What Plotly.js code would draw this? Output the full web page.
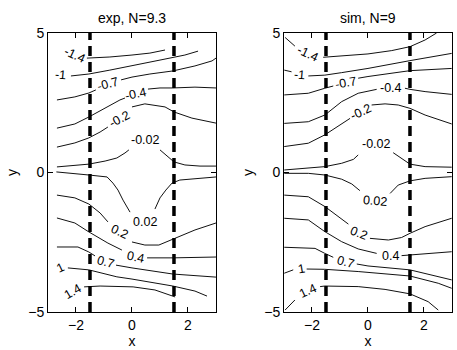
<!DOCTYPE html>
<html>
<head>
<meta charset="utf-8">
<script src="https://cdn.plot.ly/plotly-3.0.1.min.js"></script>
<style>
  html, body { margin: 0; padding: 0; background: #fff; }
  #chart { width: 457px; height: 350px; }
</style>
</head>
<body>
<div id="chart"></div>
<script>
// contour levels shared by both panels
const levels = [-1.4, -1, -0.7, -0.4, -0.2, -0.02, 0.02, 0.2, 0.4, 0.7, 1, 1.4];
const panelTitles = ["exp, N=9.3", "sim, N=9"];
const guideX = [-1.5, 1.5];
const guideY = [-5, 5];
const xTicks = [-2, 0, 2];
const yTicks = [-5, 0, 5];

// ---- exp panel, one line per level (null = gap where the label sits)
const expM14x = [-1.61, -0.79, 0, 0.64, 1.18];
const expM14y = [4.10, 4.14, 4.21, 4.28, 4.39];
const expM1x = [-2.18, -1.54, -0.79, 0, 1.0, 1.89, 2.36];
const expM1y = [3.46, 3.53, 3.67, 3.82, 4.03, 4.21, 4.35];
const expM07x = [-2.68, -2.04, -1.54, -1.29, null, -0.39, 0, 0.64, 1.46, 2.25, 2.86, 3.0];
const expM07y = [2.60, 2.71, 2.85, 2.96, null, 3.32, 3.42, 3.53, 3.64, 3.82, 4.0, 4.1];
const expM04x = [-2.68, -2.04, -1.54, -0.96, -0.43, -0.25, null, 0.57, 1.0, 1.46, 2.25, 3.0];
const expM04y = [1.59, 1.74, 1.99, 2.31, 2.60, 2.67, null, 2.99, 3.03, 3.03, 3.06, 3.03];
const expM02x = [-2.68, -2.04, -1.54, -1.14, -0.86, null, 0, 0.46, 1.18, 1.5, 2.14, 3.0];
const expM02y = [0.91, 1.06, 1.24, 1.45, 1.63, null, 2.35, 2.46, 2.35, 2.17, 1.95, 1.77];
const expM002x = [-2.68, -1.54, -0.96, -0.54, -0.25, -0.11, null, 1.0, 1.25, 1.5, 1.89, 2.43, 3.0];
const expM002y = [0.20, 0.30, 0.41, 0.52, 0.70, 0.81, null, 0.81, 0.59, 0.38, 0.27, 0.23, 0.23];
const expP002x = [-2.7, -2.21, -1.54, -0.89, -0.68, -0.5, -0.32, -0.07, null, 0.82, 1.0, 1.21, 1.43, 1.71, 3.0];
const expP002y = [0.02, -0.02, -0.09, -0.16, -0.38, -0.63, -0.99, -1.42, null, -1.31, -0.91, -0.63, -0.38, -0.27, -0.16];
const expP02x = [-2.68, -2.04, -1.54, -1.14, -0.86, null, 0, 0.46, 0.96, 1.46, 2.25, 3.0];
const expP02y = [-0.81, -0.91, -1.13, -1.45, -1.77, null, -2.49, -2.6, -2.6, -2.39, -2.06, -1.81];
const expP04x = [-2.68, -2.04, -1.54, -0.86, -0.36, null, 0.54, 1.46, 3.0];
const expP04y = [-1.63, -1.81, -2.13, -2.53, -2.78, null, -3.06, -3.06, -3.03];
const expP07x = [-2.68, -1.93, -1.54, -1.32, null, -0.57, 0, 1.46, 3.0];
const expP07y = [-2.67, -2.67, -2.85, -2.99, null, -3.32, -3.42, -3.64, -3.75];
const expP1x = [-2.29, -1.54, -0.54, 0, 1.46, 2.25, 2.68];
const expP1y = [-3.42, -3.49, -3.74, -3.82, -4.07, -4.25, -4.43];
const expP14x = [-1.71, -1.14, 0.04, 0.82, 1.54];
const expP14y = [-4.10, -4.07, -4.10, -4.21, -4.46];
const expLabelX = [-2.05, -2.54, -0.86, 0.14, -0.43, 0.5, 0.46, -0.43, 0.11, -0.96, -2.57, -2.14];
const expLabelY = [4.22, 3.49, 3.17, 2.81, 1.9, 1.16, -1.77, -2.13, -3.03, -3.21, -3.42, -4.28];

// ---- sim panel
const simM14x = [-2.96, -2.79, -2.61, null, -1.6, -0.94, 0, 0.85, 1.5, 2.04, 2.33, 2.45];
const simM14y = [4.84, 4.69, 4.53, null, 4.13, 4.18, 4.25, 4.37, 4.51, 4.75, 4.93, 5.0];
const simM1x = [-2.99, -2.73, null, -2.13, -1.54, -0.94, 0, 1.5, 2.99];
const simM1y = [3.67, 3.61, null, 3.46, 3.49, 3.58, 3.73, 4.01, 4.27];
const simM07x = [-2.99, -2.13, -1.54, -1.24, null, -0.35, 0, 1.5, 2.99];
const simM07y = [2.78, 2.84, 3.02, 3.1, null, 3.38, 3.44, 3.65, 3.73];
const simM04x = [-2.99, -2.13, -1.54, -0.94, -0.35, 0.31, null, 1.32, 1.5, 2.04, 2.99];
const simM04y = [1.76, 1.82, 2.06, 2.54, 2.84, 2.98, null, 3.02, 2.98, 2.9, 2.8];
const simM02x = [-2.99, -2.13, -1.54, -0.94, -0.64, null, 0.13, 0.61, 1.08, 1.5, 2.04, 2.99];
const simM02y = [0.93, 1.05, 1.35, 1.76, 1.94, null, 2.42, 2.46, 2.42, 2.3, 2.06, 1.74];
const simM002x = [-2.99, -2.13, -1.54, -0.94, -0.52, -0.35, null, 0.9, 1.2, 1.5, 2.04, 2.99];
const simM002y = [0.09, 0.15, 0.21, 0.33, 0.47, 0.63, null, 0.71, 0.51, 0.3, 0.21, 0.19];
const simP002x = [-2.99, -2.13, -1.54, -0.94, -0.58, -0.29, null, 0.79, 1.08, 1.5, 2.04, 2.99];
const simP002y = [-0.03, -0.03, -0.09, -0.24, -0.41, -0.65, null, -0.75, -0.45, -0.3, -0.21, -0.15];
const simP02x = [-2.99, -2.13, -1.54, -1.06, -0.7, null, 0.07, 0.73, 1.2, 1.5, 2.04, 2.99];
const simP02y = [-0.81, -0.87, -1.22, -1.58, -1.85, null, -2.36, -2.42, -2.33, -2.18, -1.94, -1.64];
const simP04x = [-2.99, -2.13, -1.54, -0.94, -0.35, 0.31, null, 1.2, 1.5, 2.99];
const simP04y = [-1.64, -1.7, -2.12, -2.48, -2.74, -2.9, null, -2.98, -2.96, -2.84];
const simP07x = [-2.99, -1.89, -1.54, -1.24, null, -0.4, 0, 1.5, 2.27, 2.99];
const simP07y = [-2.68, -2.72, -2.9, -3.04, null, -3.28, -3.35, -3.49, -3.67, -3.85];
const simP1x = [-2.99, -2.67, null, -2.19, -1.54, -0.35, 1.5, 2.51, 2.99];
const simP1y = [-3.61, -3.49, null, -3.46, -3.47, -3.55, -3.71, -3.97, -4.15];
const simP14x = [-2.96, -2.79, -2.61, null, -1.71, -1.54, -0.35, 0.61, 1.5, 2.15, 2.51];
const simP14y = [-4.93, -4.75, -4.57, null, -4.09, -4.07, -4.09, -4.19, -4.35, -4.63, -4.93];
const simLabelX = [-2.13, -2.43, -0.8, 0.81, -0.25, 0.31, 0.25, -0.35, 0.79, -0.82, -2.39, -2.15];
const simLabelY = [4.25, 3.49, 3.22, 3.02, 2.18, 1.02, -1.01, -2.18, -2.99, -3.2, -3.46, -4.23];

// label rotation (deg, clockwise) to follow the line
const expLabelAngle = [25, 5, -15, -12, -28, 0, 0, 25, 12, 15, -25, -30];
const simLabelAngle = [25, 5, -10, 0, -25, 0, 5, 22, 0, 15, -10, -25];

const expLinesX = [expM14x, expM1x, expM07x, expM04x, expM02x, expM002x, expP002x, expP02x, expP04x, expP07x, expP1x, expP14x];
const expLinesY = [expM14y, expM1y, expM07y, expM04y, expM02y, expM002y, expP002y, expP02y, expP04y, expP07y, expP1y, expP14y];
const simLinesX = [simM14x, simM1x, simM07x, simM04x, simM02x, simM002x, simP002x, simP02x, simP04x, simP07x, simP1x, simP14x];
const simLinesY = [simM14y, simM1y, simM07y, simM04y, simM02y, simM002y, simP002y, simP02y, simP04y, simP07y, simP1y, simP14y];

const fontFam = "Liberation Sans, Arial, Helvetica, sans-serif";

var traces = [];
var annotations = [];

function addPanel(linesX, linesY, labX, labY, labAng, xa, ya) {
   for (var i = 0; i < levels.length; i++) {
      traces.push({
         x: linesX[i],
         y: linesY[i],
         xaxis: xa,
         yaxis: ya,
         type: "scatter",
         mode: "lines",
         connectgaps: false,
         hoverinfo: "skip",
         line: { color: "#111", width: 1 },
      });
      annotations.push({
         x: labX[i],
         y: labY[i],
         xref: xa,
         yref: ya,
         text: String(levels[i]),
         showarrow: false,
         textangle: labAng[i],
         font: { family: fontFam, size: 12.5, color: "#000" },
      });
   }
   for (var j = 0; j < guideX.length; j++) {
      traces.push({
         x: [guideX[j], guideX[j]],
         y: guideY,
         xaxis: xa,
         yaxis: ya,
         type: "scatter",
         mode: "lines",
         hoverinfo: "skip",
         line: { color: "#000", width: 3.5, dash: "10px,6px" },
      });
   }
}

addPanel(expLinesX, expLinesY, expLabelX, expLabelY, expLabelAngle, "x", "y");
addPanel(simLinesX, simLinesY, simLabelX, simLabelY, simLabelAngle, "x2", "y2");

const titleX = [0.289, 0.805];
for (var k = 0; k < panelTitles.length; k++) {
   annotations.push({
      x: titleX[k],
      y: 0.948,
      xref: "paper",
      yref: "paper",
      text: panelTitles[k],
      showarrow: false,
      xanchor: "center",
      yanchor: "middle",
      font: { family: fontFam, size: 14, color: "#000" },
   });
}

function xAxis(dom, anchor) {
   return {
      domain: dom,
      anchor: anchor,
      range: [-3, 3],
      tickvals: xTicks,
      ticks: "inside",
      ticklen: 5,
      tickcolor: "#000",
      showline: true,
      linecolor: "#000",
      linewidth: 1,
      mirror: "allticks",
      showgrid: false,
      zeroline: false,
      automargin: false,
      tickfont: { family: fontFam, size: 14, color: "#000" },
      title: { text: "x", standoff: 4, font: { family: fontFam, size: 14, color: "#000" } },
   };
}

function yAxis(anchor) {
   return {
      domain: [0.1086, 0.9057],
      anchor: anchor,
      range: [-5, 5],
      tickvals: yTicks,
      ticks: "inside",
      ticklen: 5,
      tickcolor: "#000",
      showline: true,
      linecolor: "#000",
      linewidth: 1,
      mirror: "allticks",
      showgrid: false,
      zeroline: false,
      automargin: false,
      tickfont: { family: fontFam, size: 14, color: "#000" },
      title: { text: "y", standoff: 7, font: { family: fontFam, size: 14, color: "#000" } },
   };
}

var layout = {
   width: 457,
   height: 350,
   margin: { l: 0, r: 0, t: 0, b: 0 },
   paper_bgcolor: "#fff",
   plot_bgcolor: "#fff",
   showlegend: false,
   font: { family: fontFam, size: 14, color: "#000" },
   xaxis: xAxis([0.105, 0.4726], "y"),
   yaxis: yAxis("x"),
   xaxis2: xAxis([0.6214, 0.989], "y2"),
   yaxis2: yAxis("x2"),
   annotations: annotations,
};

Plotly.newPlot("chart", traces, layout, { staticPlot: true });
</script>
</body>
</html>
